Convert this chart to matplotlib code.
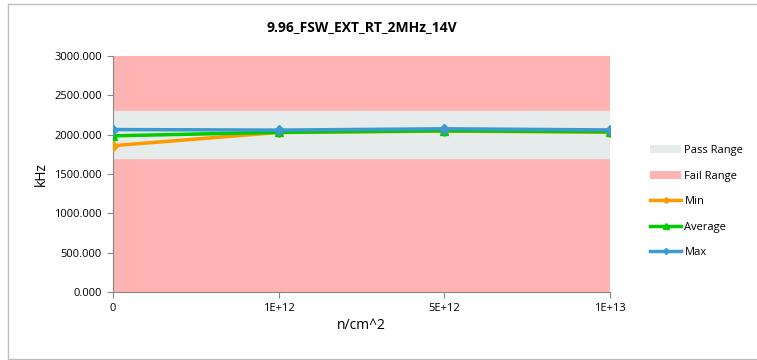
import matplotlib
matplotlib.use('Agg')
import matplotlib.pyplot as plt
from matplotlib.patches import Patch
from matplotlib.lines import Line2D

plt.rcParams['font.family'] = ['Open Sans', 'DejaVu Sans']

# data
categories = ['0', '1E+12', '5E+12', '1E+13']
min_vals = [1860, 2028, 2045, 2030]
avg_vals = [1985, 2030, 2050, 2038]
max_vals = [2065, 2058, 2075, 2060]
pass_lo, pass_hi = 1700, 2300
y_max = 3000
yticks = [0, 500, 1000, 1500, 2000, 2500, 3000]

W, H = 757, 360
fig = plt.figure(figsize=(W / 100, H / 100), dpi=100)
fig.patch.set_facecolor('white')

# chart border (Excel-like frame)
fig.add_artist(Line2D([8 / W, 8 / W], [0, 1 - 4 / H], transform=fig.transFigure,
                      color='#bfbfbf', lw=1))
fig.add_artist(Line2D([8 / W, 1], [1 - 4 / H, 1 - 4 / H], transform=fig.transFigure,
                      color='#bfbfbf', lw=1))
fig.add_artist(Line2D([8 / W, 1], [1.5 / H, 1.5 / H], transform=fig.transFigure,
                      color='#bfbfbf', lw=1))

ax = fig.add_axes([113 / W, 1 - 292 / H, (610 - 113) / W, (292 - 56) / H])
x = list(range(len(categories)))

ax.axhspan(0, y_max, color='#ffb3b3', zorder=0)
ax.axhspan(pass_lo, pass_hi, color='#e6eceb', zorder=1)

ax.plot(x, min_vals, color='#ff9900', lw=2.5, marker='D', ms=5, zorder=3)
ax.plot(x, avg_vals, color='#00cc00', lw=2.5, marker='^', ms=6, zorder=4)
ax.plot(x, max_vals, color='#3c9ad0', lw=2.5, marker='D', ms=5, zorder=5)

ax.set_xlim(0, len(categories) - 1)
ax.set_ylim(0, y_max)
ax.set_xticks(x)
ax.set_xticklabels(categories, fontsize=8)
ax.set_yticks(yticks)
ax.set_yticklabels([f'{v:.3f}' for v in yticks], fontsize=8)
ax.tick_params(axis='both', direction='out', length=4, color='#888888', pad=4)

for side in ['top', 'right']:
    ax.spines[side].set_visible(False)
ax.spines['left'].set_color('#888888')
ax.spines['bottom'].set_color('#888888')

ax.set_xlabel('n/cm^2', fontsize=10, labelpad=3)
ax.set_ylabel('kHz', fontsize=10, labelpad=4)
fig.text(362 / W, 1 - 27 / H, '9.96_FSW_EXT_RT_2MHz_14V', fontsize=10,
         fontweight='bold', ha='center', va='center')

handles = [
    Patch(facecolor='#e6eceb', edgecolor='none', label='Pass Range'),
    Patch(facecolor='#ffb3b3', edgecolor='none', label='Fail Range'),
    Line2D([], [], color='#ff9900', lw=2.5, marker='D', ms=3, label='Min'),
    Line2D([], [], color='#00cc00', lw=2.5, marker='^', ms=4, label='Average'),
    Line2D([], [], color='#3c9ad0', lw=2.5, marker='D', ms=3, label='Max'),
]
fig.legend(handles=handles, loc='upper left', bbox_to_anchor=(640 / W, 1 - 135 / H),
           frameon=False, fontsize=8, labelspacing=1.3, handlelength=2.8,
           handletextpad=0.3, handleheight=0.8)

fig.savefig('out.png', dpi=100)
